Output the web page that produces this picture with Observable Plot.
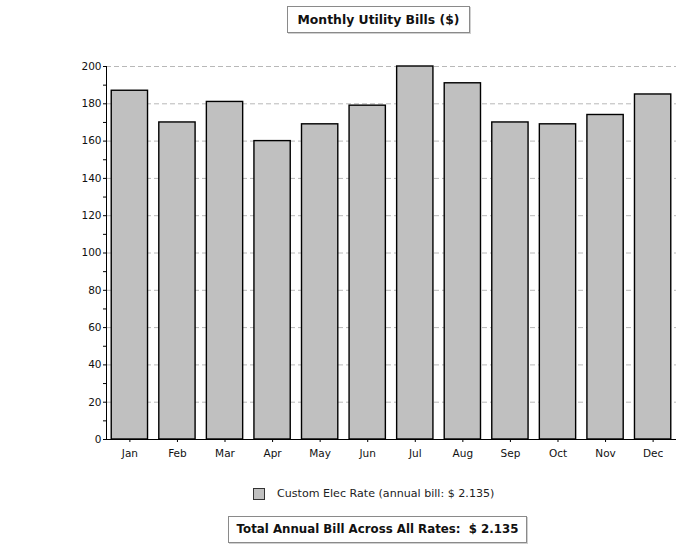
<!DOCTYPE html>
<html>
<head>
<meta charset="utf-8">
<script src="https://cdn.jsdelivr.net/npm/d3@7"></script>
<script src="https://cdn.jsdelivr.net/npm/@observablehq/plot@0.6"></script>
<style>
  html, body { margin: 0; padding: 0; background: #fff; }
  body { width: 685px; height: 556px; position: relative; overflow: hidden; font-family: "DejaVu Sans", Verdana, sans-serif; }
  #top { position: relative; height: 40px; }
  #title { position: absolute; left: 287px; top: 6px; width: 183px; height: 27px; border: 1px solid #8a8a8a; box-shadow: 1px 1px 0 #d0d0d0; box-sizing: border-box; font-weight: bold; font-size: 12.4px; line-height: 25px; text-align: center; color: #111; white-space: nowrap; }
  #chart svg { display: block; }
  #bottom { position: relative; height: 86px; }
  #legend { position: absolute; left: 253px; top: 17px; font-size: 11.1px; color: #222; white-space: nowrap; }
  #legend .sw { position: absolute; left: 0; top: 1px; width: 10px; height: 10px; background: #c0c0c0; border: 1px solid #333; }
  #legend .lb { position: absolute; left: 24px; top: 0; line-height: 13px; }
  #total { position: absolute; left: 228px; top: 46px; width: 299px; height: 27px; border: 1px solid #8a8a8a; box-shadow: 1px 1px 0 #d0d0d0; box-sizing: border-box; font-weight: bold; font-size: 11.8px; line-height: 25px; text-align: center; color: #111; white-space: nowrap; }
</style>
</head>
<body>
<div id="top"><div id="title">Monthly Utility Bills ($)</div></div>
<div id="chart"></div>
<div id="bottom">
  <div id="legend"><span class="sw"></span><span class="lb">Custom Elec Rate (annual bill: $ 2.135)</span></div>
  <div id="total">Total Annual Bill Across All Rates:&nbsp; $ 2.135</div>
</div>
<script>
const months = ["Jan","Feb","Mar","Apr","May","Jun","Jul","Aug","Sep","Oct","Nov","Dec"];
const bills = [187, 170, 181, 160, 169, 179, 200, 191, 170, 169, 174, 185];
const yTicks = [0, 10, 20, 30, 40, 50, 60, 70, 80, 90, 100, 110, 120, 130, 140, 150, 160, 170, 180, 190, 200];
const gridTicks = [20, 40, 60, 80, 100, 120, 140, 160, 180, 200];

const data = months.map((m, i) => ({month: m, bill: bills[i]}));

const chart = Plot.plot({
  width: 685,
  height: 430,
  marginLeft: 106,
  marginRight: 9,
  marginTop: 26,
  marginBottom: 31,
  style: { fontFamily: "DejaVu Sans, Verdana, sans-serif", fontSize: "10.5px", color: "#111", background: "#fff" },
  x: { domain: months, paddingInner: 0.237, paddingOuter: 0.11, round: false, label: null },
  y: { domain: [0, 200], label: null },
  marks: [
    Plot.gridY(gridTicks, { stroke: "#b8b8b8", strokeOpacity: 1, strokeDasharray: "5,3" }),
    Plot.barY(data, { x: "month", y: "bill", fill: "#c0c0c0", stroke: "#000", strokeWidth: 1.4 }),
    Plot.axisY(yTicks, { tickSize: 3, tickPadding: 2, tickFormat: d => d % 20 === 0 ? d : "", stroke: "#000", label: null }),
    Plot.axisX({ tickSize: 3, tickPadding: 7, stroke: "#000", label: null }),
    Plot.frame({ anchor: "left", stroke: "#000" }),
    Plot.ruleY([0], { stroke: "#000", strokeWidth: 1.2 })
  ]
});
document.getElementById("chart").appendChild(chart);
</script>
</body>
</html>
